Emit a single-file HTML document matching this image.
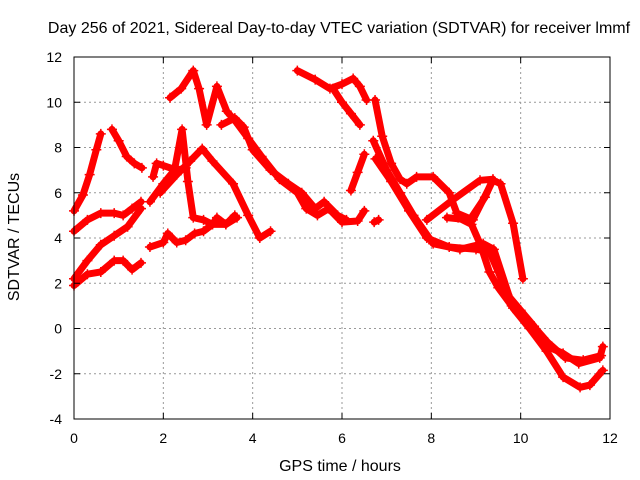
<!DOCTYPE html>
<html><head><meta charset="utf-8"><style>
body{margin:0;background:#fff;}
svg{display:block;font-family:"Liberation Sans",sans-serif;}
</style></head><body>
<svg id="chart" width="640" height="480" viewBox="0 0 640 480" xmlns="http://www.w3.org/2000/svg">
<text x="339" y="33" font-size="16" text-anchor="middle">Day 256 of 2021, Sidereal Day-to-day VTEC variation (SDTVAR) for receiver lmmf</text>
<text x="340" y="471" font-size="16" text-anchor="middle">GPS time / hours</text>
<text x="19" y="237" font-size="16" text-anchor="middle" transform="rotate(-90 19 237)">SDTVAR / TECUs</text>
<g id="grid"></g>
<g id="series"></g>
<rect x="74" y="57" width="536" height="362" fill="none" stroke="#000" stroke-width="1"/>
<g id="ticks"></g>
</svg>
<script>
const xTicks=[0,2,4,6,8,10,12];
const yTicks=[-4,-2,0,2,4,6,8,10,12];
const trackA=[[0,5.2],[0.2,5.9],[0.35,6.8],[0.5,7.9],[0.6,8.6]];
const trackB=[[0.85,8.8],[1.0,8.3],[1.18,7.6],[1.35,7.3],[1.52,7.1]];
const trackC=[[0,4.3],[0.3,4.8],[0.6,5.1],[0.9,5.1],[1.1,5.0],[1.3,5.3],[1.5,5.6]];
const trackD=[[0,2.2],[0.3,3.0],[0.6,3.7],[0.9,4.1],[1.2,4.5],[1.5,5.3]];
const trackE=[[0,1.9],[0.3,2.4],[0.6,2.5],[0.9,3.0],[1.1,3.0],[1.3,2.6],[1.5,2.9]];
const trackF=[[1.7,3.6],[2.0,3.8],[2.1,4.2],[2.3,3.8],[2.5,3.9],[2.7,4.2],[2.9,4.3],[3.1,4.6],[3.2,4.9],[3.4,4.6],[3.6,5.0]];
const trackG=[[2.15,10.2],[2.4,10.6],[2.67,11.4],[2.8,10.6],[2.97,9.0],[3.2,10.7],[3.42,9.6],[3.6,9.2],[3.9,8.4],[4.2,7.6],[4.6,6.6],[5.0,6.0],[5.2,5.3],[5.45,5.0],[5.7,5.3],[6.0,4.7],[6.35,4.75],[6.5,5.2]];
const trackG2=[[3.3,9.0],[3.6,9.3],[3.8,8.9],[4.0,7.9],[4.4,7.0],[4.8,6.4],[5.1,6.0],[5.4,5.3],[5.6,5.6],[5.9,5.0],[6.1,4.8]];
const trackH=[[1.93,6.0],[2.3,6.8],[2.6,7.4],[2.87,7.95],[3.1,7.4],[3.56,6.4],[3.9,5.0],[4.16,4.0],[4.4,4.3]];
const trackI=[[1.7,5.6],[2.0,6.4],[2.25,7.0],[2.42,8.8],[2.55,6.5],[2.67,4.9],[2.9,4.8],[3.1,4.6],[3.4,4.6],[3.65,4.9]];
const trackJ=[[1.77,6.7],[1.85,7.3],[2.0,7.2],[2.3,7.0],[2.5,7.1]];
const trackK1=[[5.0,11.4],[5.4,11.0],[5.73,10.6],[6.0,10.8],[6.25,11.05],[6.4,10.7],[6.55,10.1]];
const trackK2=[[5.8,10.6],[6.0,10.0],[6.2,9.5],[6.4,9.0]];
const trackL=[[6.2,6.1],[6.35,6.9],[6.5,7.7]];
const trackDot=[[6.72,4.7],[6.82,4.8]];
const trackM=[[6.74,10.1],[6.9,8.5],[7.1,7.3],[7.3,6.6],[7.45,6.4],[7.67,6.7],[8.04,6.7],[8.4,6.0],[8.57,5.1],[8.93,4.8],[9.38,6.55],[9.55,6.4],[9.83,4.65],[10.05,2.2]];
const trackN=[[6.7,8.3],[7.0,7.0],[7.3,6.0],[7.6,5.0],[8.04,3.75],[8.64,3.5],[9.16,3.75],[9.4,3.5],[9.83,0.9],[10.2,0.0],[10.58,-1.0],[10.95,-2.15],[11.33,-2.6],[11.55,-2.5],[11.84,-1.85]];
const trackP=[[6.75,7.5],[7.1,6.5],[7.5,5.2],[7.9,4.0],[8.4,3.6],[9.0,3.5],[9.3,3.4],[9.5,2.5],[9.7,1.5],[10.0,0.8],[10.3,0.1],[10.6,-0.8],[10.95,-1.1],[11.3,-1.55],[11.77,-1.3],[11.84,-0.8]];
const trackO=[[7.9,4.8],[8.49,5.7],[9.09,6.55],[9.38,6.6],[9.2,5.8],[8.86,4.8],[8.35,4.9]];
const trackQ=[[8.6,4.9],[8.9,4.6],[9.1,3.7],[9.3,2.5],[9.5,1.8],[9.8,1.0],[10.2,0.3],[10.6,-0.6],[11.0,-1.3],[11.4,-1.4],[11.8,-1.2]];
const allTracks=[trackA,trackB,trackC,trackD,trackE,trackF,trackG,trackG2,trackH,trackI,trackJ,trackK1,trackK2,trackL,trackDot,trackM,trackN,trackP,trackO,trackQ];
const X0=74,X1=610,Y0=419,Y1=57;
function xs(h){return X0+(h-0)/(12-0)*(X1-X0);}
function ys(v){return Y0-(v-(-4))/(12-(-4))*(Y0-Y1);}
const NS='http://www.w3.org/2000/svg';
const grid=document.getElementById('grid'),ticks=document.getElementById('ticks'),ser=document.getElementById('series');
function mk(t,a,p){const e=document.createElementNS(NS,t);for(const k in a)e.setAttribute(k,a[k]);p.appendChild(e);return e;}
xTicks.forEach(t=>{const x=xs(t);
 if(t>0&&t<12){const g=mk('line',{x1:x,x2:x,y1:Y1,y2:Y0,stroke:'#999','stroke-dasharray':'2,3'},grid);
 
 }
 mk('line',{x1:x,x2:x,y1:Y0,y2:Y0-6,stroke:'#000'},ticks);
 mk('line',{x1:x,x2:x,y1:Y1,y2:Y1+6,stroke:'#000'},ticks);
 const l=mk('text',{x:x,y:443,'font-size':14,'text-anchor':'middle'},ticks);l.textContent=t;
 
 });
yTicks.forEach(t=>{const y=ys(t);
 if(t>-4&&t<12){const g=mk('line',{x1:X0,x2:X1,y1:y,y2:y,stroke:'#999','stroke-dasharray':'2,3'},grid);
 
 }
 mk('line',{x1:X0,x2:X0+6,y1:y,y2:y,stroke:'#000'},ticks);
 mk('line',{x1:X1,x2:X1-6,y1:y,y2:y,stroke:'#000'},ticks);
 const l=mk('text',{x:62,y:y+5,'font-size':14,'text-anchor':'end'},ticks);l.textContent=t;
 
 });
allTracks.forEach(tr=>{
 const p=mk('polyline',{points:tr.map(d=>xs(d[0])+','+ys(d[1])).join(' '),fill:'none',stroke:'#ff0000','stroke-width':7,'stroke-linejoin':'round','stroke-linecap':'round'},ser);
 
 
 tr.forEach(d=>{const x=xs(d[0]),y=ys(d[1]);
  const m=mk('path',{d:`M${x-5},${y}H${x+5}M${x},${y-5}V${y+5}`,stroke:'#ff0000','stroke-width':1.5},ser);
  
  });
});
</script>
</body></html>
